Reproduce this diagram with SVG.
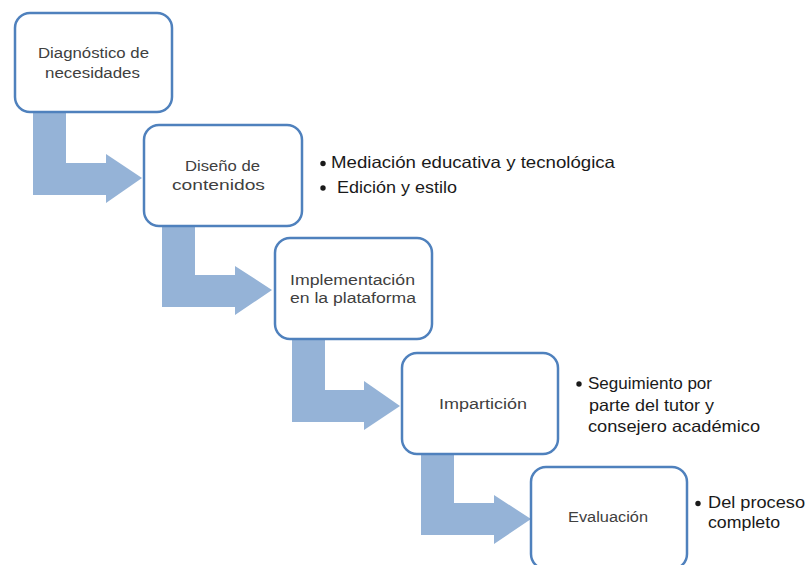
<svg xmlns="http://www.w3.org/2000/svg" width="808" height="565" viewBox="0 0 808 565">
<style>
.box{fill:#ffffff;stroke:#4f81bd;stroke-width:2.5}
.arr{fill:#95b3d7}
.lbl{font-family:"Liberation Sans",Arial,sans-serif;font-size:15.5px;fill:#404040;text-anchor:middle}
.bul{font-family:"Liberation Sans",Arial,sans-serif;font-size:16.5px;fill:#1a1a1a}
.dot{fill:#1a1a1a}
</style>
<rect width="808" height="565" fill="#ffffff"/>
<g id="connectors">
<path class="arr" d="M33 112 L66 112 L66 163 L106 163 L106 154 L142 178 L106 203 L106 195 L33 195 Z"/>
<path class="arr" d="M162 225 L195 225 L195 275 L235 275 L235 266 L272 290 L235 315 L235 307 L162 307 Z"/>
<path class="arr" d="M292 338 L325 338 L325 390 L364 390 L364 381 L400 406 L364 430 L364 422 L292 422 Z"/>
<path class="arr" d="M421 453 L454 453 L454 503 L494 503 L494 495 L531 519 L494 544 L494 535 L421 535 Z"/>
</g>
<g id="n1">
<rect class="box" x="15" y="13" width="157" height="99" rx="15"/>
<text class="lbl" x="93.5" y="58" textLength="111" lengthAdjust="spacingAndGlyphs">Diagnóstico de</text>
<text class="lbl" x="92.5" y="78" textLength="95" lengthAdjust="spacingAndGlyphs">necesidades</text>
</g>
<g id="n2">
<rect class="box" x="144" y="125" width="158" height="101" rx="15"/>
<text class="lbl" x="222.5" y="171" textLength="75" lengthAdjust="spacingAndGlyphs">Diseño de</text>
<text class="lbl" x="218.5" y="190" textLength="93" lengthAdjust="spacingAndGlyphs">contenidos</text>
</g>
<g id="n3">
<rect class="box" x="275" y="238" width="157" height="101" rx="15"/>
<text class="lbl" x="352.5" y="285" textLength="125" lengthAdjust="spacingAndGlyphs">Implementación</text>
<text class="lbl" x="353" y="303" textLength="126" lengthAdjust="spacingAndGlyphs">en la plataforma</text>
</g>
<g id="n4">
<rect class="box" x="402" y="353" width="156" height="101" rx="15"/>
<text class="lbl" x="483" y="409" textLength="88" lengthAdjust="spacingAndGlyphs">Impartición</text>
</g>
<g id="n5">
<rect class="box" x="531" y="467" width="156" height="102" rx="15"/>
<text class="lbl" x="608" y="522" textLength="80" lengthAdjust="spacingAndGlyphs">Evaluación</text>
</g>
<g id="notes">
<circle class="dot" cx="323" cy="163.5" r="2.7"/>
<text class="bul" x="331" y="168" textLength="284" lengthAdjust="spacingAndGlyphs">Mediación educativa y tecnológica</text>
<circle class="dot" cx="323" cy="188" r="2.7"/>
<text class="bul" x="337" y="193" textLength="120" lengthAdjust="spacingAndGlyphs">Edición y estilo</text>
<circle class="dot" cx="579" cy="384" r="2.7"/>
<text class="bul" x="588" y="389" textLength="124" lengthAdjust="spacingAndGlyphs">Seguimiento por</text>
<text class="bul" x="589" y="411" textLength="125" lengthAdjust="spacingAndGlyphs">parte del tutor y</text>
<text class="bul" x="588" y="432" textLength="172" lengthAdjust="spacingAndGlyphs">consejero académico</text>
<circle class="dot" cx="698" cy="503.5" r="2.7"/>
<text class="bul" x="708" y="508" textLength="97" lengthAdjust="spacingAndGlyphs">Del proceso</text>
<text class="bul" x="708" y="528" textLength="72" lengthAdjust="spacingAndGlyphs">completo</text>
</g>
</svg>
